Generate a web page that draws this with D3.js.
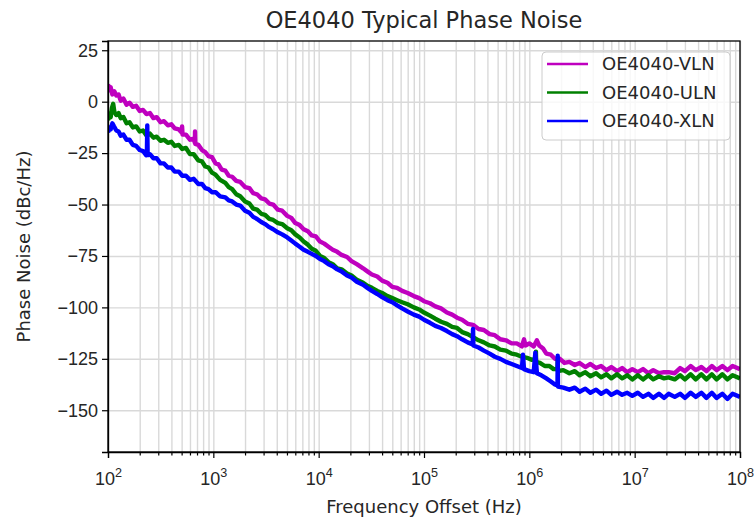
<!DOCTYPE html>
<html>
<head>
<meta charset="utf-8">
<script src="https://cdn.jsdelivr.net/npm/d3@7"></script>
<style>
  body { margin: 0; background: #fff; }
  svg { display: block; font-family: "DejaVu Sans", sans-serif; }
  .grid line { stroke: #d9d9d9; stroke-width: 1.4; }
  .grid .domain { display: none; }
  .axis text { fill: #262626; }
</style>
</head>
<body>
<div id="chart"></div>
<script>
// chart texts
const chartTitle = "OE4040 Typical Phase Noise";
const xLabel = "Frequency Offset (Hz)";
const yLabel = "Phase Noise (dBc/Hz)";
const seriesNames = ["OE4040-VLN", "OE4040-ULN", "OE4040-XLN"];
const seriesColors = ["#bf00bf", "#008000", "#0000ff"];

// axis ticks
const xMajorTicks = [1e2, 1e3, 1e4, 1e5, 1e6, 1e7, 1e8];
const xTickExponents = [2, 3, 4, 5, 6, 7, 8];
const yTicks = [25, 0, -25, -50, -75, -100, -125, -150];
const xDomain = [1e2, 1e8];
const yDomain = [-170.3, 29.5];

const vln = [[100,8.5],[103,5.5],[106,7],[110,3.5],[115,5],[120,3],[126,3.5],[132,0.5],[140,1.5],[150,-1.5],[160,-0.5],[172,-2.5],[185,-2],[200,-4.5],[215,-4],[232,-6],[250,-5.5],[270,-8],[290,-7.5],[315,-10],[340,-9.5],[370,-11.5],[400,-11],[430,-13],[470,-13.5],[500,-15],[505,-12],[510,-16],[550,-16],[600,-18.5],[650,-18],[668,-20],[670,-14.5],[674,-20.5],[720,-21],[780,-23.5],[838,-24.5],[900,-26.5],[970,-27],[1050,-30],[1120,-30.5],[1200,-33],[1300,-33.5],[1400,-36],[1510,-36.5],[1650,-38.5],[1800,-39],[2000,-41.5],[2200,-42],[2390,-44.5],[2600,-45],[2850,-47],[3100,-47.5],[3400,-49.5],[3700,-50],[4100,-52.5],[4500,-53],[5030,-55.5],[5500,-56.5],[6000,-59],[6600,-60],[7200,-62],[7900,-63],[8600,-65],[9400,-65.5],[10300,-68],[11300,-69],[12400,-70.5],[13600,-72],[15000,-73],[16500,-74.5],[18600,-75.5],[20500,-77.5],[23000,-79],[26400,-81],[29000,-82.5],[32000,-84],[36000,-85],[40000,-87],[45000,-88],[50000,-90],[55500,-90.5],[62000,-92],[70000,-93],[80000,-94.5],[90000,-95.5],[100000,-97],[114000,-98],[128000,-99.5],[145000,-100.5],[165000,-102.5],[185000,-103.5],[206000,-105],[230000,-106],[260000,-108],[292000,-108.5],[330000,-110.5],[370000,-111],[420000,-113],[470000,-113.5],[530000,-115.5],[600000,-116],[680000,-117.5],[760000,-117.5],[850000,-119],[890000,-115.5],[920000,-118.5],[1000000,-117.5],[1100000,-119],[1180000,-116],[1240000,-118.5],[1350000,-120],[1450000,-122.5],[1600000,-123],[1750000,-125],[1950000,-125],[2150000,-127],[2400000,-126.5],[2700000,-128],[3000000,-127],[3400000,-129],[3800000,-127.5],[4300000,-129.5],[4800000,-128.5],[5400000,-130.5],[6000000,-129],[6800000,-131],[7600000,-129.5],[8500000,-131.5],[9500000,-130],[10700000,-131.5],[12000000,-130],[13500000,-132],[15000000,-130.5],[17000000,-132],[19000000,-131.5],[21000000,-131.5],[24000000,-132],[27000000,-129.5],[30000000,-131],[34000000,-128.5],[38000000,-130.5],[43000000,-129],[48000000,-131],[54000000,-128.5],[60000000,-130.5],[68000000,-128.5],[76000000,-130.5],[85000000,-128.5],[100000000,-130]];

const uln = [[100,-9],[103,-6],[106,-7.5],[109,-3],[112,-1],[115,-5],[120,-6.5],[126,-5.5],[132,-8],[140,-7.5],[150,-10.5],[160,-10],[172,-12.5],[185,-12],[200,-14.5],[215,-14],[232,-16.5],[250,-15.5],[270,-17.5],[290,-17],[315,-19],[340,-18.5],[370,-20],[400,-19.5],[430,-21.5],[470,-21],[507,-23],[550,-22.5],[600,-25.5],[650,-25.5],[720,-28.5],[780,-29],[838,-31.5],[900,-32],[970,-34.5],[1050,-35.5],[1160,-38],[1300,-39.5],[1400,-41.5],[1510,-42.5],[1650,-45],[1800,-46],[2000,-48.5],[2200,-49.5],[2390,-52],[2600,-52.5],[2850,-54.5],[3100,-55],[3400,-57],[3700,-57.5],[4100,-59],[4500,-59.5],[5030,-61.5],[5500,-62.5],[6000,-64.5],[6600,-66],[7200,-68],[7900,-69.5],[8600,-71.5],[9400,-72.5],[10300,-75],[11300,-76],[12400,-78],[13600,-79],[15000,-81],[16500,-81.5],[18600,-83.5],[20500,-84.5],[23000,-86.5],[26400,-88],[29000,-89.5],[32000,-90.5],[36000,-92],[40000,-93],[45000,-94.5],[50000,-95.5],[55500,-96.5],[62000,-97.5],[70000,-98.5],[80000,-100],[90000,-101],[100000,-102.5],[114000,-104],[128000,-105.5],[145000,-107],[165000,-108],[185000,-109.5],[206000,-110],[230000,-112],[260000,-113],[292000,-114.5],[330000,-116],[370000,-117],[420000,-118.5],[470000,-119],[530000,-120.5],[600000,-121],[680000,-122.5],[760000,-123],[850000,-124],[950000,-124.5],[1050000,-125.5],[1150000,-125],[1155000,-121.5],[1160000,-126.5],[1260000,-127],[1400000,-128.5],[1550000,-128.5],[1700000,-130],[1850000,-130],[1860000,-125.5],[1870000,-131],[2100000,-130.5],[2400000,-132],[2700000,-131],[3000000,-133],[3400000,-131.5],[3800000,-133.5],[4300000,-132],[4800000,-134],[5400000,-132.5],[6000000,-134.5],[6800000,-132.5],[7600000,-134.5],[8500000,-133],[9500000,-135],[10700000,-133],[12000000,-135],[13500000,-133],[15000000,-135],[17000000,-133.5],[19000000,-134.5],[21000000,-134],[24000000,-135],[27000000,-133],[30000000,-135],[34000000,-132.5],[38000000,-135],[43000000,-132.5],[48000000,-135],[54000000,-132.5],[60000000,-135],[68000000,-132.5],[76000000,-135],[85000000,-133],[100000000,-134.5]];

const xln = [[100,-15],[103,-12.5],[106,-13.5],[110,-10.5],[114,-12],[120,-14],[126,-14.5],[132,-16.5],[140,-16],[150,-18.5],[160,-18.5],[172,-21],[185,-21.5],[200,-23.5],[215,-24],[230,-26],[234,-25],[236,-11.5],[238,-26],[250,-25.5],[270,-27.5],[290,-27.5],[315,-30],[340,-30],[370,-32],[400,-32],[430,-34],[470,-34],[507,-36],[550,-36],[600,-38],[650,-37.5],[720,-40],[780,-40],[838,-42],[900,-42.5],[970,-44],[1050,-44],[1160,-46],[1300,-46.5],[1400,-48],[1510,-48.5],[1650,-50],[1800,-50.5],[2000,-53],[2200,-54],[2390,-56],[2600,-57],[2850,-58.5],[3100,-59.5],[3400,-61],[3700,-62],[4100,-63.5],[4500,-64.5],[5030,-66],[5500,-67.5],[6000,-69],[6600,-70.5],[7200,-72],[7900,-73],[8600,-74],[9400,-75],[10300,-76.5],[11300,-77.5],[12400,-79],[13600,-80],[15000,-81.5],[16500,-82.5],[18600,-84.5],[20500,-85.5],[23000,-87.5],[26400,-89],[29000,-90.5],[32000,-92],[36000,-93.5],[40000,-95],[45000,-96.5],[50000,-97.5],[55500,-99],[62000,-100.5],[70000,-102],[80000,-103.5],[90000,-104.5],[100000,-106],[114000,-107.5],[128000,-109],[145000,-110],[165000,-111.5],[185000,-113],[206000,-114],[230000,-115.5],[260000,-117],[290000,-118],[292000,-110.5],[294000,-118.5],[330000,-119.5],[370000,-121],[420000,-122.5],[470000,-124],[530000,-125],[600000,-126.5],[680000,-127.5],[760000,-128.5],[850000,-129.5],[870000,-123],[890000,-130],[1000000,-131],[1100000,-131.5],[1140000,-122],[1180000,-132],[1300000,-133],[1450000,-134.5],[1600000,-136],[1750000,-137.5],[1850000,-138],[1860000,-123.5],[1870000,-138.5],[2100000,-139],[2400000,-140],[2700000,-139],[3000000,-141],[3400000,-139.5],[3800000,-141.5],[4300000,-140],[4800000,-142],[5400000,-140.5],[6000000,-142.5],[6800000,-141],[7600000,-142.5],[8500000,-141.5],[9500000,-143],[10700000,-141.5],[12000000,-143.5],[13500000,-142],[15000000,-144],[17000000,-142],[19000000,-144],[21000000,-142],[24000000,-143.5],[27000000,-142],[30000000,-144],[34000000,-141.5],[38000000,-143.5],[43000000,-141.5],[48000000,-144],[54000000,-141.5],[60000000,-144],[68000000,-142],[76000000,-144.5],[85000000,-142],[100000000,-143.5]];

const seriesData = [vln, uln, xln];

const W = 754, H = 520;
const margin = { top: 41, right: 14, bottom: 68, left: 108 };
const width = W - margin.left - margin.right;
const height = H - margin.top - margin.bottom;

const svg = d3.select("#chart").append("svg")
    .attr("width", W)
    .attr("height", H);

const g = svg.append("g")
    .attr("transform", `translate(${margin.left},${margin.top})`);

const x = d3.scaleLog().domain(xDomain).range([0, width]);
const y = d3.scaleLinear().domain(yDomain).range([height, 0]);

// minor ticks 2..9 in every decade
const xMinorTicks = [];
xMajorTicks.slice(0, -1).forEach(d => {
    for (let k = 2; k <= 9; k++) xMinorTicks.push(d * k);
});

// grid
g.append("g").attr("class", "grid")
    .attr("transform", `translate(0,${height})`)
    .call(d3.axisBottom(x).tickValues(xMajorTicks.concat(xMinorTicks)).tickSize(-height).tickFormat(""));
g.append("g").attr("class", "grid")
    .call(d3.axisLeft(y).tickValues(yTicks).tickSize(-width).tickFormat(""));

// traces
const line = d3.line()
    .x(d => x(d[0]))
    .y(d => y(d[1]));

g.append("defs").append("clipPath").attr("id", "plot-clip")
    .append("rect").attr("width", width).attr("height", height);

const traces = g.append("g").attr("clip-path", "url(#plot-clip)");
seriesData.forEach((data, i) => {
    traces.append("path")
        .datum(data)
        .attr("fill", "none")
        .attr("stroke", seriesColors[i])
        .attr("stroke-width", 4.4)
        .attr("stroke-linejoin", "round")
        .attr("d", line);
});

// axes
const xAxis = g.append("g").attr("class", "axis")
    .attr("transform", `translate(0,${height})`)
    .call(d3.axisBottom(x).tickValues(xMajorTicks).tickSize(6).tickFormat(""));
g.append("g").attr("class", "axis")
    .attr("transform", `translate(0,${height})`)
    .call(d3.axisBottom(x).tickValues(xMinorTicks).tickSize(3.5).tickFormat(""))
    .select(".domain").remove();

xAxis.selectAll(".tick").each(function (d, i) {
    const t = d3.select(this).append("text")
        .attr("y", 33)
        .attr("fill", "#262626")
        .attr("text-anchor", "middle")
        .style("font-size", "18px");
    t.append("tspan").text("10");
    t.append("tspan").attr("dy", -8).style("font-size", "12.6px").text(xTickExponents[i]);
});

g.append("g").attr("class", "axis")
    .call(d3.axisLeft(y).tickValues(yTicks).tickSize(6).tickPadding(4)
        .tickFormat(d => d < 0 ? "\u2212" + Math.abs(d) : d))
    .selectAll("text").style("font-size", "18px");

g.selectAll(".axis .domain").attr("stroke", "#000").attr("stroke-width", 1.3);
g.selectAll(".axis .tick line").attr("stroke", "#000").attr("stroke-width", 1.2);

// frame
g.append("rect")
    .attr("width", width).attr("height", height)
    .attr("fill", "none").attr("stroke", "#000").attr("stroke-width", 1.3);

// title and labels
svg.append("text")
    .attr("x", margin.left + width / 2).attr("y", 28)
    .attr("text-anchor", "middle").attr("fill", "#262626")
    .style("font-size", "22.5px").text(chartTitle);

svg.append("text")
    .attr("x", margin.left + width / 2).attr("y", 513)
    .attr("text-anchor", "middle").attr("fill", "#262626")
    .style("font-size", "18px").text(xLabel);

svg.append("text")
    .attr("transform", `translate(30,${margin.top + height / 2}) rotate(-90)`)
    .attr("text-anchor", "middle").attr("fill", "#262626")
    .style("font-size", "18px").text(yLabel);

// legend
const legend = svg.append("g").attr("transform", "translate(542,52)");
legend.append("rect")
    .attr("width", 188).attr("height", 88).attr("rx", 4)
    .attr("fill", "#fff").attr("fill-opacity", 0.8)
    .attr("stroke", "#cccccc").attr("stroke-width", 1);
seriesNames.forEach((name, i) => {
    const ly = 12 + i * 28.5;
    legend.append("line")
        .attr("x1", 5).attr("x2", 46).attr("y1", ly).attr("y2", ly)
        .attr("stroke", seriesColors[i]).attr("stroke-width", 2.7);
    legend.append("text")
        .attr("x", 60).attr("y", ly).attr("dy", "0.35em")
        .attr("fill", "#262626").style("font-size", "18px").text(name);
});
</script>
</body>
</html>
